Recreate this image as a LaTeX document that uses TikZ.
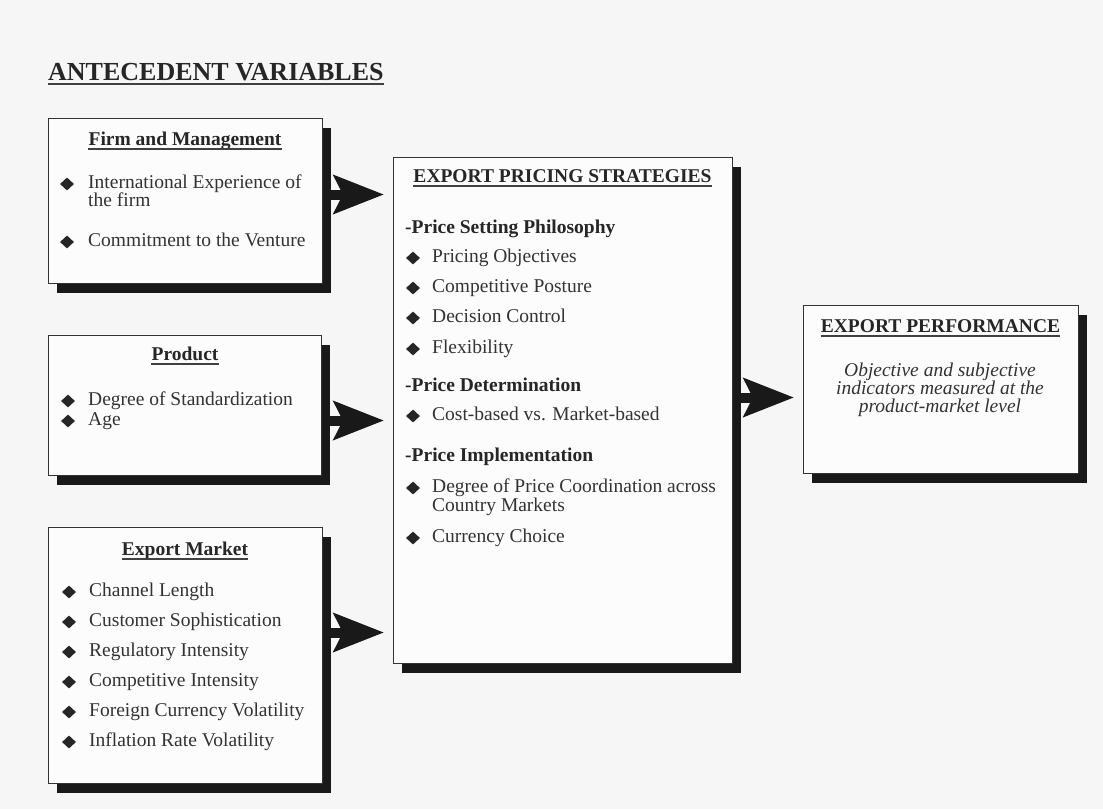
\documentclass[tikz,border=0pt]{standalone}
\usepackage{fontspec}
\setmainfont{Liberation Serif}
\usepackage{tikz}
\usetikzlibrary{arrows.meta}
\usetikzlibrary{positioning}
\usetikzlibrary{shadows}
\usetikzlibrary{shapes.geometric}

\newcommand{\bodysize}{\fontsize{19.5}{18}\selectfont}

\tikzset{
  panel/.style={draw=black!80, line width=1pt, fill=gray!2, anchor=north west,
    drop shadow={shadow xshift=8pt, shadow yshift=-9pt, fill=black!90, opacity=1}},
  head/.style={font=\bodysize\bfseries, text=black!85, inner sep=0pt, anchor=base},
  sub/.style={font=\bodysize\bfseries, text=black!85, inner sep=0pt, anchor=west,
    text height=12pt, text depth=4pt},
  itm/.style={font=\bodysize, text=black!80, inner sep=0pt, anchor=west,
    text height=12pt, text depth=4pt},
  dia/.style={diamond, fill=black!85, inner sep=0pt, minimum width=14pt, minimum height=13pt},
  uline/.style={draw=black!75, line width=1.5pt},
  bigarrow/.style={draw=black!90, line width=10pt, shorten >=9pt,
    -{Stealth[length=50pt,width=38pt,inset=9pt]}}
}

\begin{document}
\begin{tikzpicture}[x=1pt, y=-1pt]
    \fill[gray!7] (0,0) rectangle (1103,809);
    \useasboundingbox (0,0) rectangle (1103,809);

    \node[head, anchor=base west, font=\fontsize{26}{28}\selectfont\bfseries] (title) at (48,80) {ANTECEDENT VARIABLES};

    \node[panel, minimum width=274pt, minimum height=165pt] (firm) at (48,118) {};
    \node[panel, minimum width=273pt, minimum height=140pt] (prod) at (48,335) {};
    \node[panel, minimum width=274pt, minimum height=256pt] (mkt) at (48,527) {};
    \node[panel, minimum width=339pt, minimum height=506pt] (eps) at (393,157) {};
    \node[panel, minimum width=275pt, minimum height=168pt] (perf) at (803,305) {};

    \node[head] (firmh) at (185,145) {Firm and Management};
    \node[itm] (firm1) at (88,184) {International Experience of};
    \node[itm] (firm1b) at (88,202) {the firm};
    \node[itm] (firm2) at (88,242) {Commitment to the Venture};
    \foreach \n/\y in {1/184,2/242}
        \node[dia] (firmd\n) at (67,\y) {};

    \node[head] (prodh) at (185,360) {Product};
    \foreach \y/\t [count=\i] in {401/Degree of Standardization, 421/Age} {
        \node[itm] (prod\i) at (88,\y) {\t};
        \node[dia] (prodd\i) at (68,\y) {};
    }

    \node[head] (mkth) at (185,555) {Export Market};
    \foreach \y/\t [count=\i] in {592/Channel Length, 622/Customer Sophistication,
        652/Regulatory Intensity, 682/Competitive Intensity,
        712/Foreign Currency Volatility, 742/Inflation Rate Volatility} {
        \node[itm] (mkt\i) at (89,\y) {\t};
        \node[dia] (mktd\i) at (69,\y) {};
    }

    \node[head] (epsh) at (562.5,182) {EXPORT PRICING STRATEGIES};
    \foreach \y/\t [count=\i] in {229/-Price Setting Philosophy, 387/-Price Determination,
        457/-Price Implementation}
        \node[sub] (epss\i) at (405,\y) {\t};
    \foreach \y/\t [count=\i] in {258/Pricing Objectives, 288/Competitive Posture,
        318/Decision Control, 349/Flexibility, 416/Cost-based vs. Market-based,
        488/Degree of Price Coordination across, 538/Currency Choice} {
        \node[itm] (eps\i) at (432,\y) {\t};
        \node[dia] (epsd\i) at (413,\y) {};
    }
    \node[itm] (eps6b) at (432,507) {Country Markets};

    \node[head] (perfh) at (940.5,332) {EXPORT PERFORMANCE};
    \node[font=\bodysize\itshape, text=black!80, align=center, inner sep=0pt] (perft) at (940,390)
        {Objective and subjective\\indicators measured at the\\product-market level};

    \foreach \h in {title,firmh,prodh,mkth,epsh,perfh}
        \draw[uline] ([yshift=-4pt]\h.base west) -- ([yshift=-4pt]\h.base east);

    \draw[bigarrow] ([yshift=6.5pt]firm.east) -- ([yshift=6.5pt]firm.east -| eps.west);
    \draw[bigarrow] ([yshift=-15pt]prod.east) -- ([yshift=-15pt]prod.east -| eps.west);
    \draw[bigarrow] ([yshift=23pt]mkt.east) -- ([yshift=23pt]mkt.east -| eps.west);
    \draw[bigarrow] ([yshift=13pt]eps.east) -- ([yshift=13pt]eps.east -| perf.west);
\end{tikzpicture}
\end{document}
